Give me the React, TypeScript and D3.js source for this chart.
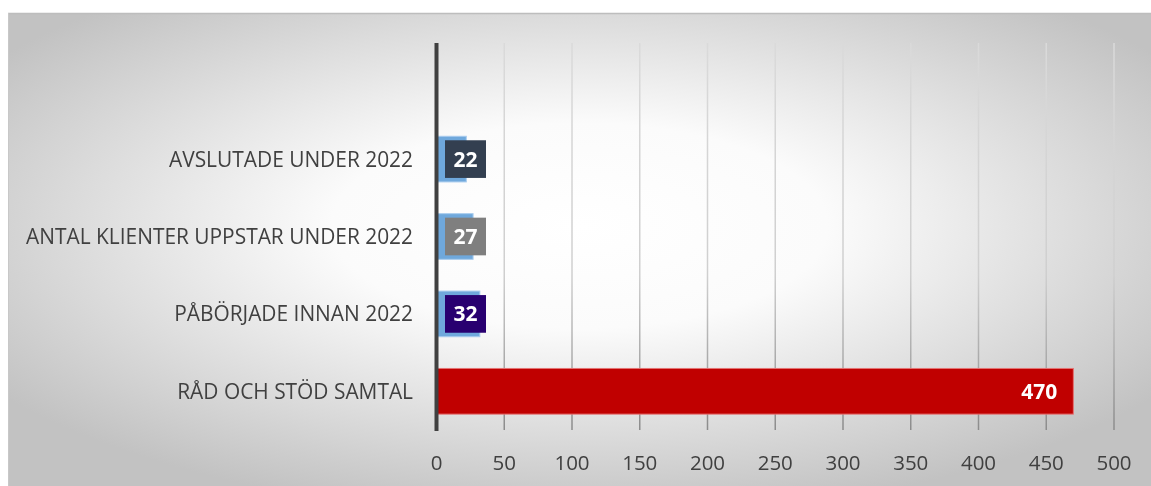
import React from "react";
import * as d3 from "d3";

const categories = ["", "AVSLUTADE UNDER 2022", "ANTAL KLIENTER UPPSTAR UNDER 2022", "PÅBÖRJADE INNAN 2022", "RÅD OCH STÖD SAMTAL"];
const values: (number | null)[] = [null, 22, 27, 32, 470];
const labelColors = ["none", "#333F50", "#7F7F7F", "#280070", "#C00000"];
const xTicks = [0, 50, 100, 150, 200, 250, 300, 350, 400, 450, 500];

const W = 1151;
const H = 486;
const FONT = "'Open Sans', 'Noto Sans', sans-serif";

export default function App() {
  const x = d3.scaleLinear().domain([0, 500]).range([436.5, 1114]);
  const y = d3.scaleBand<string>().domain(categories).range([43, 430]).paddingInner(0.41).paddingOuter(0.205);
  const bh = y.bandwidth();

  return (
    <div style={{ position: "fixed", left: 0, top: 0, width: W, height: H }}>
      <svg width={W} height={H} style={{ display: "block" }}>
        <defs>
          <radialGradient id="bg" cx="0.5" cy="0.45" r="0.62" gradientUnits="objectBoundingBox">
            <stop offset="0" stopColor="#FFFFFF" />
            <stop offset="0.35" stopColor="#FBFBFB" />
            <stop offset="1" stopColor="#C2C2C2" />
          </radialGradient>
          <linearGradient id="grid" x1="0" y1="43" x2="0" y2="430" gradientUnits="userSpaceOnUse">
            <stop offset="0" stopColor="#DADADA" />
            <stop offset="0.6" stopColor="#CFCFCF" />
            <stop offset="1" stopColor="#8C8C8C" />
          </linearGradient>
        </defs>
        <rect x={8} y={13} width={W - 8} height={H - 13} fill="url(#bg)" />
        <line x1={8} x2={W} y1={13.5} y2={13.5} stroke="#BDBDBD" strokeWidth={1.5} />
        <line x1={8.5} x2={8.5} y1={13} y2={H} stroke="#C8C8C8" strokeWidth={1} />

        {xTicks.filter((t) => t > 0).map((t) => (
          <line key={t} x1={x(t)} x2={x(t)} y1={43} y2={430} stroke="url(#grid)" strokeWidth={1.5} />
        ))}

        {categories.map((c, i) => {
          const v = values[i];
          if (v == null) return null;
          const yy = y(c)!;
          const big = v > 100;
          if (big) {
            return (
              <g key={c}>
                <rect x={x(0)} y={yy} width={x(v) - x(0)} height={bh} fill="#C00000" stroke="#E57373" strokeWidth={1} />
                <text x={x(v) - 16} y={yy + bh / 2} dy="0.36em" textAnchor="end" fill="#FFFFFF" fontFamily={FONT} fontWeight={700} fontSize={21}>
                  {v}
                </text>
              </g>
            );
          }
          return (
            <g key={c}>
              <rect x={x(0)} y={yy} width={x(v) - x(0)} height={bh} fill="#6FA8DC" stroke="#A9CCEE" strokeWidth={1} />
              <rect x={x(0) + 8.5} y={yy + 4} width={41} height={bh - 8} fill={labelColors[i]} />
              <text x={x(0) + 29} y={yy + bh / 2} dy="0.36em" textAnchor="middle" fill="#FFFFFF" fontFamily={FONT} fontWeight={700} fontSize={21}>
                {v}
              </text>
            </g>
          );
        })}

        <line x1={x(0)} x2={x(0)} y1={43} y2={431} stroke="#404040" strokeWidth={4} />

        {categories.map((c) =>
          c ? (
            <text key={c} x={413} y={y(c)! + bh / 2} dy="0.36em" textAnchor="end" fill="#404040" fontFamily={FONT} fontSize={20.9}>
              {c}
            </text>
          ) : null
        )}

        {xTicks.map((t) => (
          <text key={t} x={x(t)} y={463} dy="0.36em" textAnchor="middle" fill="#404040" fontFamily={FONT} fontSize={20.5}>
            {t}
          </text>
        ))}
      </svg>
    </div>
  );
}
